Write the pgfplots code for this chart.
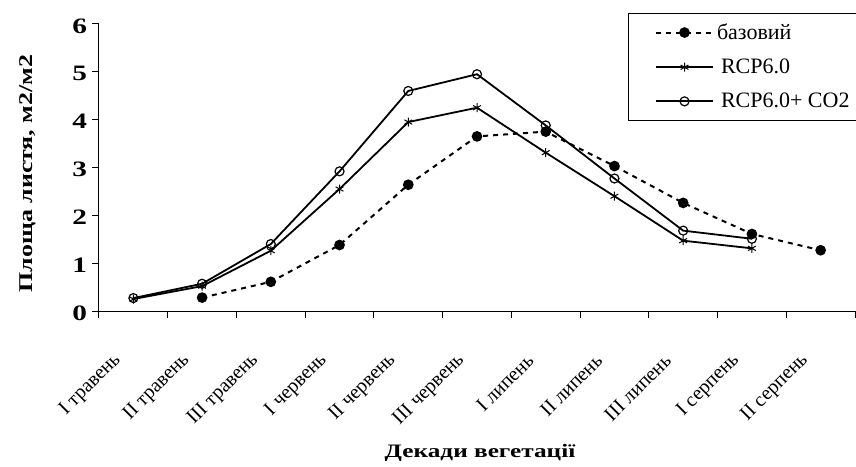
\documentclass[border=0pt]{standalone}
\usepackage{pgfplots}
\pgfplotsset{compat=1.18}
\usepackage{fontspec}
\setmainfont{Liberation Serif}[BoldFeatures={FakeStretch=1.33}]

\begin{document}
\begin{tikzpicture}
\useasboundingbox (-99pt,-155pt) rectangle (757pt,311pt);
\begin{axis}[
  scale only axis, width=756pt, height=287pt,
  xmin=-0.5, xmax=10.5, ymin=0, ymax=6,
  axis lines*=left,
  axis line style={line width=1pt, black},
  tick align=outside, major tick length=6.5pt,
  tick style={line width=1pt, black},
  xtick={-0.5,0.5,...,10.5}, xticklabels={},
  extra x ticks={0,1,...,10},
  extra x tick labels={I травень, II травень, III травень, I червень, II червень, III червень, I липень, II липень, III липень, I серпень, II серпень},
  extra x tick style={major tick length=0pt, tick label style={font=\fontsize{20}{20}\selectfont, anchor=east, xshift=-13pt, yshift=-44pt, rotate=45}},
  ytick={0,1,...,6},
  yticklabel style={font=\fontsize{22}{22}\selectfont\bfseries, xshift=-2pt, yshift=-2pt},
  /pgf/number format/assume math mode=true,
  xlabel={Декади вегетації}, ylabel={Площа листя, м2/м2},
  xlabel style={font=\fontsize{19}{19}\selectfont\bfseries, at={(axis description cs:0.504,-0.509)}, anchor=base},
  ylabel style={font=\fontsize{19.5}{19.5}\selectfont\bfseries, at={(axis description cs:-0.0939,0.479)}, anchor=center},
  clip=false,
  legend style={at={(axis description cs:1.0026,1.04)}, anchor=north east, draw=black, line width=0.8pt,
    font=\fontsize{22}{22}\selectfont, cells={anchor=west}, row sep=14pt, inner xsep=5pt, inner ysep=9pt},
  legend image code/.code={\path (-22pt,0pt) (58pt,0pt); \draw[mark repeat=2,mark phase=2,#1] plot coordinates {(0pt,0pt) (28.5pt,0pt) (57pt,0pt)};},
]
\addplot[black, line width=2pt, dash pattern=on 5pt off 5pt, mark=*, mark size=4.3pt, mark options={solid, fill=black}]
  coordinates {(1,0.28) (2,0.61) (3,1.38) (4,2.64) (5,3.65) (6,3.75) (7,3.03) (8,2.26) (9,1.61) (10,1.27)};
\addlegendentry{базовий}
\addplot[black, line width=1.8pt, mark=asterisk, mark size=4.5pt, mark options={solid, line width=1pt}]
  coordinates {(0,0.25) (1,0.52) (2,1.26) (3,2.55) (4,3.95) (5,4.25) (6,3.31) (7,2.40) (8,1.47) (9,1.31)};
\addlegendentry{\hspace{4pt}RCP6.0}
\addplot[black, line width=1.8pt, mark=o, mark size=4.5pt, mark options={solid, fill=white, line width=1.2pt}]
  coordinates {(0,0.27) (1,0.57) (2,1.40) (3,2.92) (4,4.60) (5,4.95) (6,3.88) (7,2.77) (8,1.68) (9,1.51)};
\addlegendentry{\hspace{4pt}RCP6.0+ CO2}
\end{axis}
\end{tikzpicture}
\end{document}
